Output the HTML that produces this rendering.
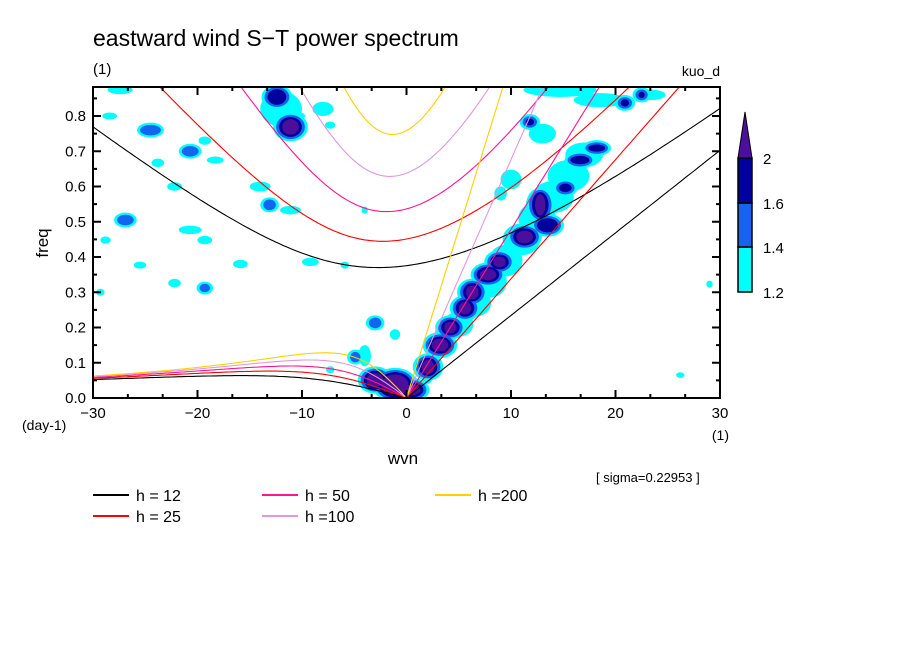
<!DOCTYPE html>
<html><head><meta charset="utf-8"><style>
body{margin:0;background:#fff;}
svg{display:block;font-family:"Liberation Sans",sans-serif;}
</style></head><body>
<svg id="chart" width="904" height="654" viewBox="0 0 904 654">
<text x="93" y="46" font-size="23">eastward wind S−T power spectrum</text>
<text x="93" y="74" font-size="15">(1)</text>
<text x="720" y="76" font-size="14" text-anchor="end">kuo_d</text>
<defs><clipPath id="pc"><rect x="93" y="87" width="627" height="311"/></clipPath></defs>
<g id="blobs" clip-path="url(#pc)"></g>
<g id="curves" clip-path="url(#pc)"></g>
<rect x="93" y="87" width="627" height="311" fill="none" stroke="#000" stroke-width="2"/>
<g id="axes"></g>
<text x="48" y="243" font-size="17" text-anchor="middle" transform="rotate(-90 48 243)">freq</text>
<text x="22" y="430" font-size="14">(day-1)</text>
<text x="729" y="440" font-size="14" text-anchor="end">(1)</text>
<text x="403" y="464" font-size="17" text-anchor="middle">wvn</text>
<text x="596" y="482" font-size="13">[ sigma=0.22953 ]</text>
<g id="legend"></g>
<g id="cbar"></g>
</svg>
<script>
const NS="http://www.w3.org/2000/svg";
const depths=[12,25,50,100,200];
const depthColors=["#000000","#ff0000","#ff1493","#dd99dd","#ffd000"];
const xTicks=[-30,-20,-10,0,10,20,30];
const yTicks=[0,0.1,0.2,0.3,0.4,0.5,0.6,0.7,0.8];
const cbLevels=[1.2,1.4,1.6,2];
const cbColors=["#00ffff","#1464f0","#00009c","#4b0f9b"];
// blob data: wavenumber, frequency, half-width (wvn), half-height (freq), level
const blobW=[2.06,0.53,-1.1,-3.0,3.2,4.2,5.6,6.3,7.8,8.9,11.3,12.8,13.5,16.6,15.2,18.2,11.8,20.9,22.5,-12.4,-11.1,
 2,3.5,5,6.5,8,9.5,11,12.5,14,15.5,17,10,13,
 -27.4,-24.5,-28.4,-20.7,-19.3,-18.3,-22.2,-14.0,-15.9,-9.2,-26.9,-20.7,-19.3,-25.5,-22.2,-19.3,-29.3,-3.0,-1.1,-13.1,-11.1,-7.3,-10.2,-4.9,-7.3,-23.8,-28.8,29.0,26.2,-4.0,-5.9,14.7,18.5,23.3,-12,-4,-8,2,9];
const blobF=[0.088,0.023,0.037,0.051,0.15,0.2,0.255,0.30,0.35,0.386,0.457,0.548,0.49,0.675,0.596,0.709,0.783,0.837,0.86,0.854,0.769,
 0.09,0.15,0.21,0.27,0.33,0.39,0.45,0.51,0.57,0.63,0.69,0.62,0.75,
 0.874,0.76,0.80,0.70,0.73,0.675,0.60,0.60,0.38,0.386,0.505,0.477,0.448,0.377,0.326,0.312,0.30,0.213,0.18,0.548,0.533,0.774,0.80,0.116,0.08,0.667,0.448,0.323,0.065,0.533,0.377,0.874,0.845,0.86,0.82,0.12,0.82,0.06,0.58];
const blobRW=[0.6,0.8,1.3,0.8,0.8,0.6,0.6,0.6,0.8,0.6,0.8,0.5,1.0,0.9,0.6,0.8,0.4,0.4,0.3,0.9,0.8,
 0.9,1.2,1.4,1.6,1.6,1.6,1.8,1.8,2.0,2.0,1.8,1.0,1.3,
 1.2,1.0,0.7,0.8,0.6,0.8,0.7,1.0,0.7,0.8,0.8,1.1,0.7,0.6,0.6,0.5,0.4,0.6,0.5,0.6,1.0,0.5,0.5,0.5,0.4,0.6,0.5,0.3,0.4,0.3,0.4,3.5,2.5,1.5,2.0,0.6,1.0,0.5,0.6];
const blobRF=[0.02,0.015,0.03,0.02,0.018,0.016,0.018,0.02,0.016,0.015,0.018,0.03,0.02,0.012,0.012,0.01,0.01,0.01,0.009,0.022,0.022,
 0.028,0.032,0.036,0.04,0.045,0.045,0.045,0.045,0.045,0.045,0.035,0.028,0.028,
 0.012,0.015,0.01,0.015,0.012,0.01,0.012,0.014,0.012,0.012,0.015,0.012,0.012,0.01,0.012,0.012,0.01,0.015,0.015,0.015,0.012,0.01,0.01,0.015,0.01,0.012,0.01,0.01,0.008,0.01,0.01,0.02,0.02,0.015,0.05,0.03,0.02,0.02,0.02];
const blobL=[4,4,4,4,4,4,4,4,4,4,4,4,3,3,3,3,3,3,3,3,4,
 1,1,1,1,1,1,1,1,1,1,1,1,1,
 1,2,1,2,1,1,1,1,1,1,2,1,1,1,1,2,1,2,1,2,1,1,1,2,1,1,1,1,1,1,1,1,1,1,1,1,1,1,1];

const X0=93,X1=720,Y0=398;
const xs=s=>X0+(s+30)/60*(X1-X0);
const ys=f=>Y0-f*352.5;
function el(tag,attrs,parent){const e=document.createElementNS(NS,tag);for(const k in attrs)e.setAttribute(k,attrs[k]);parent.appendChild(e);return e;}

const bg=document.getElementById('blobs');
for(let L=1;L<=4;L++){
  for(let i=0;i<blobW.length;i++){
    if(blobL[i]<L)continue;
    const pad=blobL[i]-L;
    const e=el('ellipse',{cx:xs(blobW[i]),cy:ys(blobF[i]),rx:blobRW[i]*10.45+pad*3,ry:blobRF[i]*352.5+pad*2.2,fill:cbColors[L-1]},bg);
    
    
  }
}

const beta=2.29e-11,a=6.37e6,cpd=86400/(2*Math.PI);
function roots(k,c){
  const A=c*c*k*k+3*beta*c,B=beta*k*c*c;
  const m=2*Math.sqrt(A/3);
  let arg=(3*B/(2*A))*Math.sqrt(3/A);arg=Math.max(-1,Math.min(1,arg));
  const th=Math.acos(arg)/3;
  return [0,1,2].map(j=>m*Math.cos(th-2*Math.PI*j/3)).sort((p,q)=>p-q);
}
const cg=document.getElementById('curves');
depths.forEach((h,i)=>{
  const c=Math.sqrt(9.81*h);
  let ig=[],ro=[],kv=[];
  for(let s=-30;s<=30.001;s+=0.25){
    const k=s/a;const r=roots(k,c);
    ig.push([xs(s),ys(r[2]*cpd)]);
    if(s<0)ro.push([xs(s),ys(r[1]*cpd)]);
    if(s>=0)kv.push([xs(s),ys(c*k*cpd)]);
  }
  ro.push([xs(0),ys(0)]);
  [['ig',ig],['rossby',ro],['kelvin',kv]].forEach(([nm,pts])=>{
    const p=el('polyline',{points:pts.map(q=>q[0].toFixed(1)+','+q[1].toFixed(1)).join(' '),fill:'none',stroke:depthColors[i],'stroke-width':1.1},cg);
    
    
  });
});

const ax=document.getElementById('axes');
for(let s=-30;s<=30.001;s+=10/3){
  const major=Math.abs(s/10-Math.round(s/10))<1e-6;const L=major?8:4;
  el('line',{x1:xs(s),x2:xs(s),y1:Y0,y2:Y0-L,stroke:'#000','stroke-width':2},ax);
  el('line',{x1:xs(s),x2:xs(s),y1:87,y2:87+L,stroke:'#000','stroke-width':2},ax);
}
for(let f=0;f<=0.88;f+=0.05){
  const major=Math.abs(f*10-Math.round(f*10))<1e-6;const L=major?8:4;
  el('line',{x1:X0,x2:X0+L,y1:ys(f),y2:ys(f),stroke:'#000','stroke-width':2},ax);
  el('line',{x1:X1,x2:X1-L,y1:ys(f),y2:ys(f),stroke:'#000','stroke-width':2},ax);
}
xTicks.forEach(t=>{const e=el('text',{x:xs(t),y:418,'font-size':15,'text-anchor':'middle'},ax);e.textContent=(t<0?'−':'')+Math.abs(t);
  });
yTicks.forEach(t=>{const e=el('text',{x:86,y:ys(t)+5,'font-size':15,'text-anchor':'end'},ax);e.textContent=t.toFixed(1);
  });

const lg=document.getElementById('legend');
const legLabels=["h = 12","h = 25","h = 50","h =100","h =200"];
const lx=[93,93,262,262,435],ly=[495,516,495,516,495];
depths.forEach((h,i)=>{
  const g=el('g',{},lg);
  
  
  el('line',{x1:lx[i],x2:lx[i]+36,y1:ly[i],y2:ly[i],stroke:depthColors[i],'stroke-width':2},g);
  const t=el('text',{x:lx[i]+43,y:ly[i]+6,'font-size':16},g);t.textContent=legLabels[i];
});

const cb=document.getElementById('cbar');
const cbY=[292,247,203,158];
for(let i=0;i<3;i++){
  const r=el('rect',{x:738,y:cbY[i+1],width:14,height:cbY[i]-cbY[i+1],fill:cbColors[i],stroke:'#000','stroke-width':1.5},cb);
  
}
const tri=el('polygon',{points:'738,158 752,158 745,112',fill:cbColors[3],stroke:'#000','stroke-width':1},cb);

cbLevels.forEach((v,i)=>{const t=el('text',{x:763,y:cbY[i]+6,'font-size':15},cb);t.textContent=String(v);
  });
</script>
</body></html>
